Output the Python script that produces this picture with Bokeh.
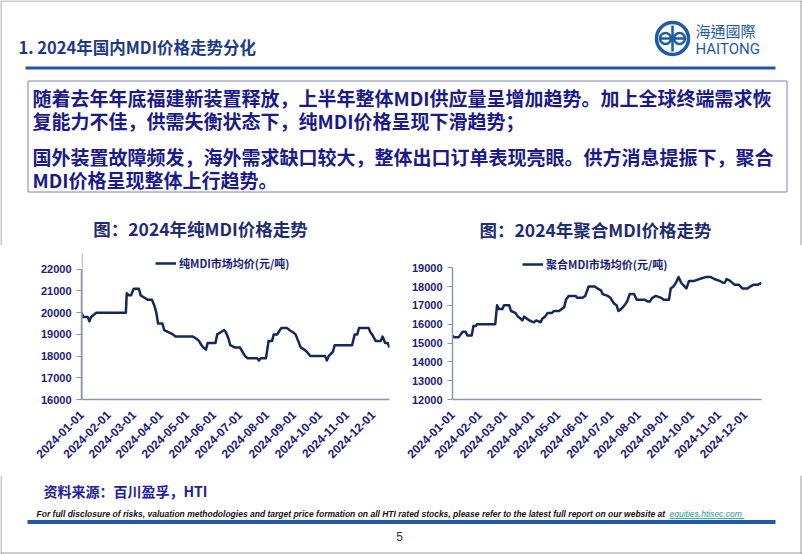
import math
import pandas as pd
from bokeh.plotting import figure
from bokeh.layouts import column, row
from bokeh.models import (Range1d, FixedTicker, DatetimeTickFormatter, Legend,
                          LegendItem, ColumnDataSource, BoxAnnotation)
from bokeh.core.properties import value
from bokeh.embed import file_html
from bokeh.resources import INLINE

# ---------------- data ----------------
PURE_DATES = ["2024-01-01", "2024-01-03", "2024-01-08", "2024-01-10", "2024-01-12", "2024-01-15",
              "2024-01-18", "2024-02-21", "2024-02-22", "2024-02-24", "2024-02-27", "2024-03-01",
              "2024-03-07", "2024-03-09", "2024-03-13", "2024-03-17", "2024-03-22", "2024-03-25",
              "2024-03-27", "2024-03-29", "2024-04-03", "2024-04-05", "2024-04-10", "2024-04-15",
              "2024-04-18", "2024-05-08", "2024-05-12", "2024-05-15", "2024-05-18", "2024-05-20",
              "2024-05-23", "2024-05-25", "2024-06-03", "2024-06-05", "2024-06-09", "2024-06-13",
              "2024-06-15", "2024-06-18", "2024-06-20", "2024-06-25", "2024-07-01", "2024-07-04",
              "2024-07-07", "2024-07-10", "2024-07-21", "2024-07-23", "2024-07-25", "2024-07-31",
              "2024-08-03", "2024-08-07", "2024-08-09", "2024-08-13", "2024-08-16", "2024-08-18",
              "2024-08-24", "2024-08-27", "2024-08-31", "2024-09-03", "2024-09-06", "2024-09-09",
              "2024-09-13", "2024-09-16", "2024-09-20", "2024-10-07", "2024-10-09", "2024-10-11",
              "2024-10-16", "2024-10-18", "2024-11-07", "2024-11-10", "2024-11-13", "2024-11-15",
              "2024-11-26", "2024-11-28", "2024-11-30", "2024-12-04", "2024-12-10", "2024-12-12",
              "2024-12-15", "2024-12-18", "2024-12-20"]
PURE_PRICES = [20000, 19800, 19800, 19600, 19800, 19900,
               20000, 20000, 20900, 20800, 20800, 21100,
               21100, 20800, 20700, 20600, 20600, 20300,
               20000, 19500, 19500, 19200, 19100, 19000,
               18900, 18900, 18800, 18700, 18500, 18400,
               18300, 18600, 18600, 19000, 19100, 19200,
               19100, 18800, 18500, 18400, 18400, 18200,
               18000, 17900, 17900, 17800, 17900, 17900,
               18700, 18700, 19000, 19000, 19200, 19300,
               19300, 19200, 19100, 19000, 18700, 18400,
               18300, 18200, 18000, 18000, 17800, 18000,
               18200, 18500, 18500, 19000, 19000, 19300,
               19300, 19100, 19000, 18700, 18700, 18900,
               18600, 18600, 18400]

POLY_DATES = ["2024-01-01", "2024-01-03", "2024-01-08", "2024-01-11", "2024-01-13", "2024-01-16",
              "2024-01-18", "2024-01-23", "2024-01-25", "2024-01-28", "2024-01-29", "2024-02-19",
              "2024-02-21", "2024-02-23", "2024-02-27", "2024-02-29", "2024-03-06", "2024-03-08",
              "2024-03-13", "2024-03-16", "2024-03-19", "2024-03-21", "2024-03-23", "2024-03-26",
              "2024-03-29", "2024-04-03", "2024-04-06", "2024-04-11", "2024-04-13", "2024-04-16",
              "2024-04-19", "2024-04-24", "2024-04-26", "2024-05-02", "2024-05-05", "2024-05-08",
              "2024-05-10", "2024-05-13", "2024-05-21", "2024-05-23", "2024-05-29", "2024-06-01",
              "2024-06-05", "2024-06-12", "2024-06-15", "2024-06-19", "2024-06-21", "2024-06-27",
              "2024-06-30", "2024-07-04", "2024-07-07", "2024-07-09", "2024-07-12", "2024-07-16",
              "2024-07-19", "2024-07-22", "2024-07-27", "2024-07-30", "2024-08-08", "2024-08-12",
              "2024-08-14", "2024-08-17", "2024-08-21", "2024-08-27", "2024-08-30", "2024-09-05",
              "2024-09-07", "2024-09-10", "2024-09-13", "2024-09-16", "2024-09-19", "2024-09-23",
              "2024-09-25", "2024-09-28", "2024-10-04", "2024-10-10", "2024-10-17", "2024-10-23",
              "2024-10-27", "2024-11-02", "2024-11-06", "2024-11-08", "2024-11-10", "2024-11-14",
              "2024-11-19", "2024-11-24", "2024-11-28", "2024-12-04", "2024-12-07", "2024-12-11",
              "2024-12-16", "2024-12-20"]
POLY_PRICES = [15400, 15300, 15300, 15500, 15600, 15600,
               15400, 15400, 15900, 15900, 16000, 16000,
               17000, 16800, 16800, 17000, 17000, 16700,
               16600, 16400, 16300, 16200, 16400, 16300,
               16200, 16100, 16200, 16100, 16300, 16400,
               16600, 16600, 16700, 16700, 16800, 16900,
               17300, 17500, 17500, 17400, 17400, 17500,
               18000, 18000, 17900, 17800, 17600, 17500,
               17400, 17100, 17000, 16700, 16800, 17000,
               17200, 17600, 17600, 17300, 17300, 17200,
               17200, 17400, 17500, 17400, 17300, 17300,
               17900, 18000, 18200, 18500, 18200, 18000,
               17900, 18300, 18300, 18400, 18500, 18500,
               18400, 18300, 18200, 18200, 18400, 18300,
               18100, 18100, 17900, 17900, 18000, 18100,
               18100, 18200]

MONTH_TICKS = ["2024-01-01", "2024-02-01", "2024-03-01", "2024-04-01", "2024-05-01", "2024-06-01",
               "2024-07-01", "2024-08-01", "2024-09-01", "2024-10-01", "2024-11-01", "2024-12-01"]
X_START, X_END = "2024-01-01", "2024-12-20"
PURE_Y_TICKS = [16000, 17000, 18000, 19000, 20000, 21000, 22000]
POLY_Y_TICKS = [12000, 13000, 14000, 15000, 16000, 17000, 18000, 19000]

PURE_LABEL = "纯MDI市场均价(元/吨)"
POLY_LABEL = "聚合MDI市场均价(元/吨)"

SLIDE_TITLE = "1. 2024年国内MDI价格走势分化"
BOX_LINES = ["随着去年年底福建新装置释放，上半年整体MDI供应量呈增加趋势。加上全球终端需求恢",
             "复能力不佳，供需失衡状态下，纯MDI价格呈现下滑趋势；",
             "国外装置故障频发，海外需求缺口较大，整体出口订单表现亮眼。供方消息提振下，聚合",
             "MDI价格呈现整体上行趋势。"]
CHART_TITLES = ["图：2024年纯MDI价格走势", "图：2024年聚合MDI价格走势"]
SOURCE = "资料来源：百川盈孚，HTI"
DISCLAIMER = ("For full disclosure of risks, valuation methodologies and target price formation on all "
              "HTI rated stocks, please refer to the latest full report on our website at ")
LINK = "equities.htisec.com"

# ---------------- styles ----------------
CJK = "Noto Sans CJK SC"
LAT = "Liberation Sans"
TITLE_C = "#1E3A8A"
TEXT_C = "#1A1A8C"
CHART_T_C = "#1F2C73"
TICK_C = "#1C1C7A"
LINE_C = "#13295B"
AXIS_C = "#8A96AA"
RULE_C = "#1F5AA6"
BORDER_C = "#999999"


def blank(w, h, y0, y1):
    p = figure(width=w, height=h, x_range=Range1d(0, w), y_range=Range1d(y1, y0),
               output_backend="svg", toolbar_location=None, min_border=0,
               x_axis_location=None, y_axis_location=None)
    p.grid.visible = False
    p.outline_line_color = None
    p.background_fill_color = "white"
    p.border_fill_color = "white"
    return p


# ---------------- header ----------------
top = blank(802, 245, 0, 245)
top.segment(x0=[0.5, 800.5, 0], y0=[0, 0, 0.5], x1=[0.5, 800.5, 802], y1=[245, 245, 0.5],
            line_color=BORDER_C, line_width=1)
top.text(x=[18], y=[46], text=[SLIDE_TITLE], text_font=value(CJK), text_font_size="16.5px",
         text_font_style="bold", text_color=TITLE_C, text_baseline="middle")
top.segment(x0=[25], y0=[67.5], x1=[775], y1=[67.5], line_color=RULE_C, line_width=3)
# logo
top.circle(x=[672], y=[38], radius=16, fill_color=None, line_color=RULE_C, line_width=3.5)
top.circle(x=[665, 679], y=[38, 38], radius=5.5, fill_color=None, line_color=RULE_C, line_width=2.5)
top.segment(x0=[672, 660], y0=[25, 38], x1=[672, 684], y1=[51, 38], line_color=RULE_C, line_width=2.5)
top.text(x=[695], y=[30], text=["海通國際"], text_font=value("Noto Sans CJK TC"),
         text_font_size="15px", text_color=RULE_C, text_baseline="middle")
top.text(x=[695], y=[48], text=["HAITONG"], text_font=value("Roboto"),
         text_font_size="15px", text_color=RULE_C, text_baseline="middle")
# text box
top.quad(left=[27.5], right=[786.5], top=[80.5], bottom=[191.5], fill_color=None,
         line_color="#8080C0", line_width=1)
top.text(x=[32, 32, 32, 32], y=[97, 120, 156, 179], text=BOX_LINES, text_font=value(CJK),
         text_font_size="19px", text_font_style="bold", text_color=TEXT_C, text_baseline="middle")
# chart titles
top.text(x=[200, 595], y=[228, 229], text=CHART_TITLES, text_font=value(CJK),
         text_font_size="17.5px", text_font_style="bold", text_color=CHART_T_C,
         text_baseline="middle", text_align="center")


# ---------------- charts ----------------
def chart(dates, prices, label, yticks, y_top, bl, br, bt, bb, lx, ly, edge_x):
    p = figure(width=401, height=230, x_axis_type="datetime",
               x_range=Range1d(pd.Timestamp(X_START), pd.Timestamp(X_END)),
               y_range=Range1d(yticks[0], y_top),
               output_backend="svg", toolbar_location=None,
               min_border_left=bl, min_border_right=br, min_border_top=bt, min_border_bottom=bb)
    p.grid.visible = False
    p.outline_line_color = None
    src = ColumnDataSource(dict(x=pd.to_datetime(dates), y=prices))
    r = p.line("x", "y", source=src, line_color=LINE_C, line_width=2.5, line_join="round")

    xa = p.xaxis[0]
    xa.ticker = FixedTicker(ticks=[pd.Timestamp(t).value / 1e6 for t in MONTH_TICKS])
    xa.formatter = DatetimeTickFormatter(years="%Y-%m-%d", months="%Y-%m-%d", days="%Y-%m-%d",
                                         hours="%Y-%m-%d", context=None, strip_leading_zeros=False)
    xa.major_label_orientation = math.pi / 4
    xa.axis_line_color = AXIS_C
    xa.axis_line_width = 1.5
    xa.major_tick_line_color = None
    xa.minor_tick_line_color = None
    xa.major_label_standoff = 7
    xa.major_label_text_font = LAT
    xa.major_label_text_font_style = "bold"
    xa.major_label_text_font_size = "12px"
    xa.major_label_text_color = TICK_C

    ya = p.yaxis[0]
    ya.ticker = FixedTicker(ticks=yticks)
    ya.bounds = (yticks[0], yticks[-1])
    ya.axis_line_color = AXIS_C
    ya.axis_line_width = 1.5
    ya.major_tick_line_color = AXIS_C
    ya.major_tick_out = 5
    ya.major_tick_in = 0
    ya.minor_tick_line_color = None
    ya.major_label_standoff = 5
    ya.major_label_text_font = LAT
    ya.major_label_text_font_style = "bold"
    ya.major_label_text_font_size = "11px"
    ya.major_label_text_color = TICK_C

    lg = Legend(items=[LegendItem(label=label, renderers=[r])], location=(lx, ly),
                orientation="horizontal", glyph_width=21, glyph_height=14, label_height=14,
                label_standoff=3, padding=0, margin=0, spacing=0,
                border_line_color=None, background_fill_alpha=0,
                label_text_font=CJK, label_text_font_style="bold",
                label_text_font_size="11px", label_text_color=TICK_C)
    p.add_layout(lg)
    # slide frame edge (thin grey border of the page)
    p.add_layout(BoxAnnotation(left=edge_x, right=edge_x + 1, top=0, bottom=230,
                               left_units="screen", right_units="screen",
                               top_units="screen", bottom_units="screen",
                               fill_color=BORDER_C, fill_alpha=1, line_color=None))
    return p


left = chart(PURE_DATES, PURE_PRICES, PURE_LABEL, PURE_Y_TICKS, 22727, 81, 12, 8, 74, 74, 128, 0)
right = chart(POLY_DATES, POLY_PRICES, POLY_LABEL, POLY_Y_TICKS, 19754, 51, 41, 8, 76, 70, 127, 399)

# ---------------- footer ----------------
foot = blank(802, 79, 475, 554)
foot.segment(x0=[0.5, 800.5, 0], y0=[475, 475, 552.5], x1=[0.5, 800.5, 802], y1=[554, 554, 552.5],
             line_color=BORDER_C, line_width=1)
foot.text(x=[43], y=[490], text=[SOURCE], text_font=value(CJK), text_font_size="14px",
          text_font_style="bold", text_color="#2020A0", text_baseline="middle")
foot.text(x=[36], y=[513], text=[DISCLAIMER], text_font=value(LAT), text_font_size="8.5px",
          text_font_style="bold italic", text_color="#111111", text_baseline="middle")
foot.text(x=[669], y=[513], text=[LINK], text_font=value(LAT), text_font_size="8.5px",
          text_font_style="italic", text_color="#1A9A9A", text_baseline="middle")
foot.segment(x0=[669], y0=[518], x1=[744], y1=[518], line_color="#1A9A9A", line_width=0.8)
foot.segment(x0=[27], y0=[521.5], x1=[775], y1=[521.5], line_color=RULE_C, line_width=4)
foot.text(x=[399], y=[536], text=["5"], text_font=value(LAT), text_font_size="12px",
          text_color="#333333", text_baseline="middle", text_align="center")

layout = column(top, row(left, right, spacing=0), foot, spacing=0)

open("out.html", "w").write(file_html(layout, INLINE))
